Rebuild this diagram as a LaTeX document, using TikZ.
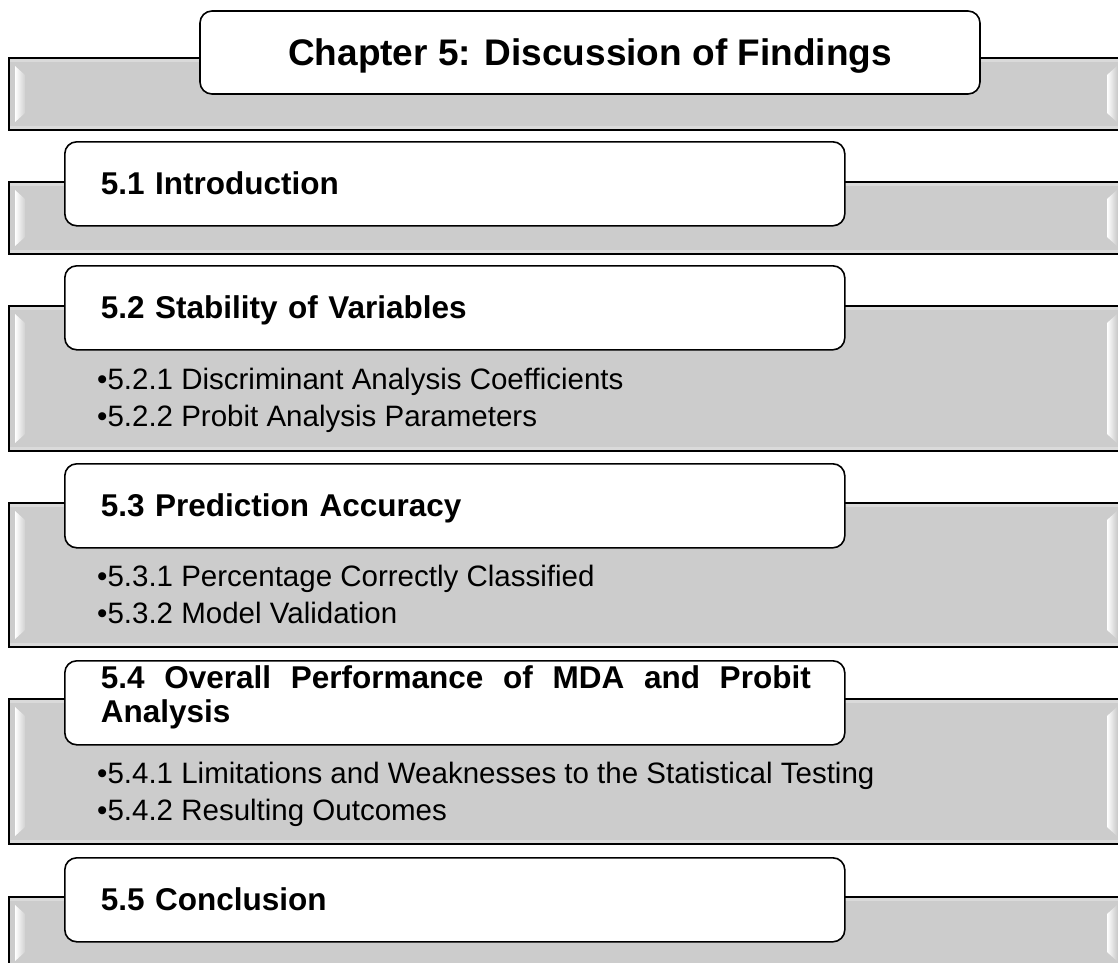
\documentclass[tikz,border=0pt]{standalone}
\usepackage{fontspec}
\setmainfont{Liberation Sans}
\definecolor{barg}{HTML}{CCCCCC}
\definecolor{barlight}{HTML}{DADADA}

% Grey bevelled band: #1 = top edge, #2 = bottom edge (y grows downward)
\newcommand{\bevelband}[2]{%
  \fill[barg] (9,#1) rectangle (1123,#2);
  \fill[barlight] (10,#1+1) rectangle (1122,#1+4);
  \fill[barlight] (10,#2-4) rectangle (1122,#2-1);
  \shade[left color=white, right color=barg!90!white]
    (15,#1+8) -- (25,#1+17) -- (25,#2-17) -- (15,#2-8) -- cycle;
  \shade[left color=white, right color=barg]
    (1107,#1+17) -- (1117,#1+8) -- (1117,#2-8) -- (1107,#2-17) -- cycle;
  \draw[line width=1.5pt] (9,#1) rectangle (1123,#2);
}

\begin{document}
\begin{tikzpicture}[x=1pt, y=-1pt,
  titlebox/.style={draw=black, line width=1.6pt, fill=white, rounded corners=12pt,
    minimum width=780pt, minimum height=83pt, inner sep=0pt,
    font=\fontsize{37}{42}\selectfont\bfseries, text height=26.5pt, text depth=0pt},
  headbox/.style={draw=black, line width=1.6pt, fill=white, rounded corners=12pt,
    anchor=north west, minimum height=84pt, text width=708pt,
    inner xsep=36pt, inner ysep=0pt, align=left,
    font=\fontsize{31.5}{34}\selectfont\bfseries, text height=22pt, text depth=0pt},
  itemtext/.style={anchor=base west, inner sep=0pt, font=\fontsize{29.5}{34}\selectfont}]

\useasboundingbox (0,0) rectangle (1118,962);
\clip (0,0) rectangle (1118,962);

% grey bands behind the headings
\bevelband{58}{130}
\bevelband{182}{254}
\bevelband{306}{451}
\bevelband{503}{647}
\bevelband{699}{844}
\bevelband{897}{969}

% chapter title
\node[titlebox] (title) at (590,52.5) {Chapter 5: Discussion of Findings};

% section headings
\node[headbox] (s51) at (64,141) {5.1 Introduction};
\node[headbox] (s52) at (64,265) {5.2 Stability of Variables};
\node[headbox] (s53) at (64,463) {5.3 Prediction Accuracy};
\node[headbox, text depth=51pt] (s54) at (64,660)
  {\hbox to 710pt{5.4\hfill Overall\hfill Performance\hfill of\hfill MDA\hfill and\hfill Probit}\\Analysis};
\node[headbox] (s55) at (64,857) {5.5 Conclusion};

% subsection items
\node[itemtext] (i521) at (97,389) {•5.2.1 Discriminant Analysis Coefficients};
\node[itemtext] (i522) at (97,426) {•5.2.2 Probit Analysis Parameters};
\node[itemtext] (i531) at (97,586) {•5.3.1 Percentage Correctly Classified};
\node[itemtext] (i532) at (97,623) {•5.3.2 Model Validation};
\node[itemtext] (i541) at (97,783) {•5.4.1 Limitations and Weaknesses to the Statistical Testing};
\node[itemtext] (i542) at (97,820) {•5.4.2 Resulting Outcomes};

\end{tikzpicture}
\end{document}
